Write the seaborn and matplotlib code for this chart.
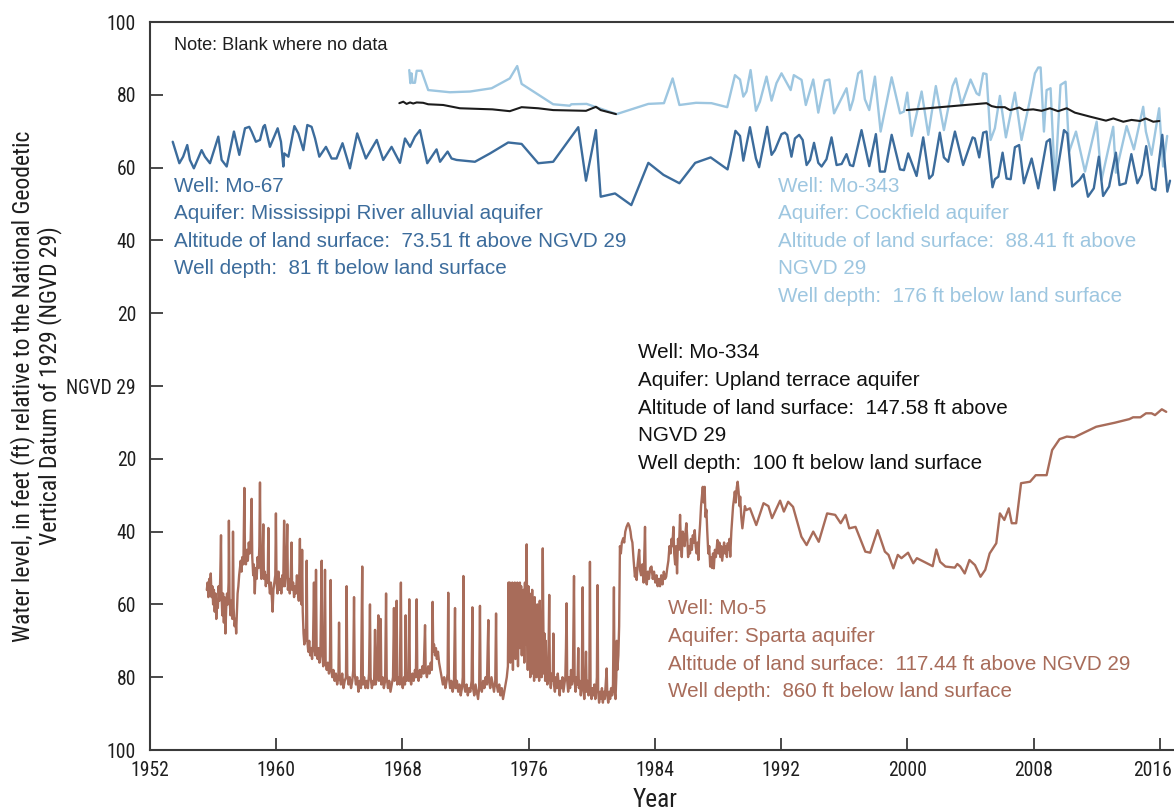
import os
import matplotlib
matplotlib.use("Agg")
import matplotlib.pyplot as plt
from matplotlib import font_manager as fm
from matplotlib.font_manager import FontProperties
from matplotlib.transforms import ScaledTranslation
import seaborn as sns
import pandas as pd

# ---------------- data ----------------
# Well Mo-67 : (year, water level ft relative to NGVD 29)
mo67_points = [
    (1953.44, 67.1), (1953.86, 61.2), (1954.10, 63.0), (1954.36, 66.2), (1954.53, 62.1),
    (1954.78, 59.8), (1955.27, 64.8), (1955.48, 63.0), (1955.80, 61.2), (1956.33, 68.5),
    (1956.54, 62.1), (1956.86, 60.3), (1957.32, 69.9), (1957.66, 63.5), (1958.02, 70.8),
    (1958.29, 71.2), (1958.44, 69.9), (1958.71, 67.1), (1958.97, 67.6), (1959.18, 71.2),
    (1959.28, 71.7), (1959.60, 65.7), (1960.09, 70.8), (1960.30, 67.1), (1960.45, 60.3),
    (1960.51, 63.9), (1960.77, 63.0), (1961.15, 71.4), (1961.40, 69.4), (1961.72, 64.8),
    (1961.97, 71.7), (1962.24, 71.2), (1962.46, 68.0), (1962.73, 63.0), (1963.15, 65.7),
    (1963.51, 62.5), (1963.82, 62.5), (1964.20, 66.7), (1964.67, 59.8), (1965.13, 69.4),
    (1965.68, 62.5), (1966.37, 67.6), (1966.78, 62.1), (1967.31, 65.7), (1967.84, 61.3),
    (1968.16, 68.0), (1968.48, 65.7), (1968.79, 68.5), (1969.11, 70.3), (1969.57, 61.2),
    (1970.16, 65.0), (1970.38, 61.6), (1970.86, 64.4), (1971.11, 62.5), (1971.43, 62.1),
    (1972.59, 61.6), (1973.55, 63.9), (1974.70, 66.9), (1975.55, 66.5), (1976.60, 61.2),
    (1977.55, 61.6), (1979.14, 71.1), (1979.63, 56.4), (1980.26, 70.3), (1980.56, 52.0),
    (1981.47, 52.9), (1982.50, 49.7), (1983.58, 61.3), (1984.54, 58.0), (1985.55, 55.7),
    (1986.55, 61.3), (1987.53, 62.8), (1988.60, 59.5), (1988.80, 63.5), (1989.10, 70.1),
    (1989.39, 68.7), (1989.60, 61.9), (1990.02, 71.1), (1990.40, 62.5), (1990.60, 60.1),
    (1991.11, 71.2), (1991.39, 63.5), (1991.60, 64.8), (1992.02, 69.2), (1992.23, 69.6),
    (1992.38, 69.0), (1992.65, 63.0), (1992.87, 68.0), (1993.14, 69.0), (1993.36, 67.6),
    (1993.61, 60.7), (1993.83, 62.1), (1994.08, 66.8), (1994.35, 61.3), (1994.56, 60.3),
    (1994.87, 62.3), (1995.19, 68.3), (1995.51, 60.7), (1995.83, 61.0), (1996.14, 63.7),
    (1996.36, 60.7), (1996.56, 60.4), (1997.09, 70.3), (1997.58, 60.4), (1998.00, 69.2),
    (1998.26, 58.9), (1998.57, 58.9), (1999.00, 69.0), (1999.53, 59.5), (1999.78, 59.3),
    (2000.05, 63.9), (2000.58, 57.7), (2001.00, 68.3), (2001.38, 57.0), (2001.60, 58.0),
    (2002.05, 69.6), (2002.31, 62.8), (2002.58, 61.6), (2003.01, 69.9), (2003.53, 60.7),
    (2004.13, 68.3), (2004.27, 68.0), (2004.55, 62.8), (2004.80, 69.6), (2005.01, 69.9),
    (2005.39, 54.6), (2005.54, 56.8), (2005.76, 57.5), (2006.03, 64.1), (2006.28, 57.0),
    (2006.54, 56.8), (2006.81, 65.6), (2007.08, 66.2), (2007.38, 55.7), (2007.87, 62.5),
    (2008.29, 54.3), (2008.82, 67.1), (2009.03, 67.8), (2009.31, 53.8), (2009.92, 70.3),
    (2010.13, 69.4), (2010.44, 54.8), (2010.90, 56.6), (2011.16, 58.2), (2011.44, 52.0),
    (2011.81, 54.3), (2012.13, 63.0), (2012.40, 52.2), (2012.78, 54.8), (2013.21, 64.1),
    (2013.44, 55.2), (2013.83, 55.7), (2014.19, 63.7), (2014.57, 55.7), (2014.84, 58.0),
    (2015.13, 65.9), (2015.50, 54.3), (2015.71, 53.8), (2016.15, 69.0), (2016.47, 53.4),
    (2016.64, 56.4),
]

# Well Mo-343
mo343_points = [
    (1968.43, 86.8), (1968.50, 83.2), (1968.57, 85.9), (1968.64, 83.3), (1968.79, 83.3),
    (1968.90, 86.6), (1969.20, 86.6), (1969.63, 81.3), (1971.00, 80.7), (1972.28, 80.9),
    (1973.65, 81.8), (1974.80, 84.5), (1975.27, 87.9), (1975.55, 83.0), (1977.55, 77.4),
    (1978.60, 77.0), (1978.70, 77.4), (1979.67, 77.5), (1980.20, 76.7), (1981.57, 74.7),
    (1983.58, 77.5), (1984.57, 77.7), (1985.12, 84.5), (1985.55, 77.2), (1986.60, 77.8),
    (1987.58, 77.7), (1988.58, 76.6), (1989.07, 85.4), (1989.39, 84.2), (1989.60, 79.5),
    (1989.80, 80.9), (1990.06, 86.8), (1990.40, 75.6), (1990.65, 78.1), (1991.07, 85.0),
    (1991.39, 78.4), (1991.70, 83.2), (1992.02, 85.9), (1992.60, 81.3), (1992.80, 85.4),
    (1993.29, 84.1), (1993.56, 77.2), (1994.03, 84.2), (1994.35, 75.1), (1994.77, 83.9),
    (1995.05, 84.2), (1995.35, 74.9), (1996.14, 81.8), (1996.36, 75.8), (1996.56, 78.6),
    (1996.88, 85.9), (1997.09, 86.6), (1997.30, 78.8), (1997.58, 75.8), (1997.94, 85.0),
    (1998.30, 69.9), (1999.00, 84.8), (1999.53, 74.9), (1999.78, 75.4), (1999.99, 80.6),
    (2000.27, 68.7), (2000.90, 80.9), (2001.32, 69.0), (2001.80, 82.4), (2002.31, 70.3),
    (2002.86, 82.4), (2003.07, 84.5), (2003.43, 77.2), (2004.00, 84.2), (2004.38, 80.4),
    (2004.55, 79.9), (2004.80, 85.9), (2005.01, 85.7), (2005.27, 67.6), (2005.54, 70.8),
    (2005.86, 79.7), (2006.24, 68.3), (2006.81, 80.6), (2007.23, 67.6), (2007.72, 77.7),
    (2008.08, 85.9), (2008.29, 87.5), (2008.44, 87.5), (2008.65, 69.9), (2008.82, 81.3),
    (2009.07, 81.8), (2009.35, 55.5), (2009.70, 82.7), (2010.02, 83.6), (2010.25, 64.4),
    (2010.68, 69.9), (2011.25, 58.9), (2011.99, 72.6), (2012.30, 56.6), (2013.04, 71.2),
    (2013.21, 58.6), (2013.89, 71.4), (2014.35, 65.0), (2014.94, 76.7), (2015.11, 69.9),
    (2015.47, 63.5), (2015.95, 76.3), (2016.20, 60.3), (2016.46, 68.7),
]

# Well Mo-334 (two periods of record, blank where no data)
mo334_points_early = [
    (1967.80, 77.7), (1968.05, 78.1), (1968.26, 77.5), (1968.48, 77.9), (1968.68, 77.6),
    (1968.90, 77.9), (1969.31, 77.8), (1969.63, 77.4), (1970.58, 77.2), (1971.64, 76.3),
    (1973.70, 76.0), (1974.80, 75.5), (1975.55, 76.6), (1976.60, 76.3), (1977.55, 75.8),
    (1979.63, 75.6), (1980.26, 76.7), (1980.56, 75.8), (1981.53, 74.7),
]
mo334_points_late = [
    (1999.95, 75.8), (2005.01, 77.7), (2005.33, 76.9), (2005.64, 76.6), (2006.17, 76.6),
    (2006.50, 75.8), (2006.70, 76.0), (2007.08, 76.5), (2007.38, 75.8), (2007.97, 76.0),
    (2008.50, 75.6), (2009.03, 76.3), (2009.55, 75.5), (2010.09, 76.3), (2010.61, 75.1),
    (2011.57, 74.0), (2012.58, 72.9), (2013.05, 73.5), (2013.68, 72.6), (2014.20, 73.1),
    (2014.74, 72.8), (2015.10, 73.5), (2015.58, 72.6), (2015.96, 72.8),
]

# Well Mo-5 (negative = below NGVD 29)
mo5_points = [
    (1955.60, -56), (1955.65, -54), (1955.70, -58), (1955.75, -53), (1955.80, -57), (1955.85, -51.5),
    (1955.90, -58), (1955.95, -55), (1956.00, -60), (1956.05, -56), (1956.10, -62), (1956.15, -57),
    (1956.20, -64), (1956.25, -59), (1956.30, -61), (1956.35, -55), (1956.40, -59), (1956.45, -53),
    (1956.50, -41), (1956.53, -57), (1956.58, -63), (1956.63, -57), (1956.68, -65), (1956.72, -58),
    (1956.78, -68), (1956.83, -61), (1956.88, -57), (1956.93, -60), (1956.98, -54), (1957.00, -37),
    (1957.04, -58), (1957.10, -63), (1957.15, -59), (1957.22, -64), (1957.26, -40), (1957.30, -61),
    (1957.36, -66), (1957.42, -64), (1957.46, -68), (1957.50, -63), (1957.55, -57), (1957.60, -55),
    (1957.65, -52), (1957.70, -50), (1957.75, -48), (1957.80, -51), (1957.85, -47), (1957.92, -49),
    (1957.98, -28), (1958.02, -47), (1958.08, -49), (1958.14, -45), (1958.20, -48), (1958.26, -43),
    (1958.32, -46), (1958.38, -42), (1958.44, -31), (1958.48, -47), (1958.54, -52), (1958.58, -49),
    (1958.64, -57), (1958.70, -50), (1958.76, -53), (1958.82, -47), (1958.88, -50), (1958.93, -44),
    (1958.97, -26.5), (1959.01, -49), (1959.06, -53), (1959.12, -50), (1959.18, -38), (1959.22, -53),
    (1959.28, -51), (1959.34, -55), (1959.40, -52), (1959.46, -54), (1959.50, -39), (1959.54, -54),
    (1959.60, -57), (1959.66, -54), (1959.72, -58), (1959.77, -62), (1959.82, -56), (1959.88, -54),
    (1959.94, -52), (1959.98, -35), (1960.02, -54), (1960.08, -57), (1960.14, -51), (1960.20, -56),
    (1960.26, -53), (1960.32, -57), (1960.38, -52), (1960.44, -55), (1960.50, -37), (1960.54, -55),
    (1960.60, -52), (1960.65, -47), (1960.70, -38), (1960.74, -56), (1960.80, -53), (1960.86, -57),
    (1960.92, -52), (1960.97, -43), (1961.01, -56), (1961.07, -54), (1961.13, -58), (1961.19, -55),
    (1961.25, -57), (1961.31, -52), (1961.37, -56), (1961.43, -59), (1961.50, -42), (1961.54, -57),
    (1961.60, -60), (1961.64, -45), (1961.68, -62), (1961.73, -68), (1961.78, -71), (1961.84, -67),
    (1961.89, -70), (1961.93, -48), (1961.97, -70), (1962.03, -73), (1962.09, -70), (1962.15, -74),
    (1962.21, -72), (1962.27, -75), (1962.33, -71), (1962.39, -54), (1962.43, -72), (1962.48, -74),
    (1962.52, -50.5), (1962.56, -73), (1962.62, -75), (1962.68, -72), (1962.74, -76), (1962.80, -73),
    (1962.88, -48), (1962.92, -74), (1962.98, -77), (1963.04, -75), (1963.09, -50.5), (1963.13, -76),
    (1963.20, -78), (1963.27, -76), (1963.34, -79), (1963.40, -77), (1963.45, -53.3), (1963.49, -78),
    (1963.55, -80), (1963.62, -78), (1963.70, -81), (1963.78, -79), (1963.86, -82), (1963.94, -80),
    (1963.98, -65), (1964.02, -80), (1964.10, -82), (1964.18, -79), (1964.26, -83), (1964.34, -81),
    (1964.42, -80), (1964.46, -55), (1964.50, -79), (1964.58, -82), (1964.66, -80), (1964.74, -83),
    (1964.82, -81), (1964.88, -78), (1964.93, -58), (1964.97, -79), (1965.05, -82), (1965.13, -80),
    (1965.21, -84), (1965.29, -81), (1965.37, -83), (1965.45, -49.6), (1965.49, -82), (1965.57, -80),
    (1965.65, -83), (1965.73, -81), (1965.81, -83), (1965.88, -79), (1965.94, -60), (1965.98, -80),
    (1966.06, -83), (1966.14, -81), (1966.20, -82), (1966.26, -67), (1966.30, -82), (1966.38, -80),
    (1966.47, -63), (1966.51, -81), (1966.57, -79), (1966.62, -64), (1966.66, -82), (1966.74, -80),
    (1966.82, -83), (1966.90, -81), (1966.96, -57), (1967.00, -80), (1967.08, -83), (1967.16, -81),
    (1967.24, -84), (1967.32, -82), (1967.40, -80), (1967.46, -61), (1967.50, -81), (1967.56, -79),
    (1967.63, -59), (1967.67, -82), (1967.75, -80), (1967.83, -82), (1967.90, -54), (1967.94, -81),
    (1968.02, -83), (1968.10, -80), (1968.16, -82), (1968.20, -63), (1968.24, -81), (1968.32, -79),
    (1968.38, -81), (1968.43, -58.6), (1968.47, -80), (1968.55, -82), (1968.63, -79), (1968.71, -81),
    (1968.79, -78), (1968.85, -80), (1968.90, -58.6), (1968.94, -79), (1969.02, -81), (1969.10, -78),
    (1969.18, -80), (1969.26, -77), (1969.34, -79), (1969.43, -65.7), (1969.47, -78), (1969.55, -80),
    (1969.63, -77), (1969.71, -79), (1969.79, -76), (1969.86, -78), (1969.91, -59.3), (1969.95, -73),
    (1970.00, -71), (1970.06, -74), (1970.12, -72), (1970.18, -75), (1970.25, -73), (1970.32, -76),
    (1970.40, -78), (1970.48, -80), (1970.56, -82), (1970.64, -80), (1970.72, -83), (1970.80, -81),
    (1970.86, -79), (1970.90, -56.8), (1970.94, -80), (1971.02, -83), (1971.10, -81), (1971.18, -84),
    (1971.26, -82), (1971.33, -61), (1971.37, -83), (1971.45, -81), (1971.53, -84), (1971.61, -82),
    (1971.69, -85), (1971.77, -83), (1971.82, -80), (1971.86, -52.2), (1971.90, -82), (1971.98, -84),
    (1972.06, -82), (1972.14, -85), (1972.22, -83), (1972.30, -84), (1972.38, -81), (1972.43, -60.8),
    (1972.47, -83), (1972.55, -85), (1972.63, -82), (1972.71, -84), (1972.79, -86), (1972.86, -83),
    (1972.91, -60.4), (1972.95, -82), (1973.03, -84), (1973.11, -81), (1973.19, -83), (1973.27, -80),
    (1973.35, -82), (1973.44, -64.3), (1973.48, -81), (1973.56, -83), (1973.64, -80), (1973.72, -82),
    (1973.80, -84), (1973.88, -81), (1973.93, -62.5), (1973.97, -82), (1974.05, -84), (1974.13, -82),
    (1974.21, -85), (1974.29, -83), (1974.37, -86), (1974.45, -84), (1974.53, -82), (1974.61, -80),
    (1974.68, -77), (1974.72, -54), (1974.76, -72), (1974.80, -54), (1974.84, -76), (1974.88, -55),
    (1974.92, -70), (1974.96, -54), (1975.00, -78), (1975.04, -56), (1975.08, -73), (1975.12, -54),
    (1975.16, -75), (1975.20, -55), (1975.24, -70), (1975.28, -54), (1975.32, -77), (1975.36, -57),
    (1975.40, -72), (1975.44, -54), (1975.48, -68), (1975.52, -55), (1975.56, -74), (1975.60, -58),
    (1975.64, -70), (1975.68, -56), (1975.72, -76), (1975.76, -54), (1975.80, -71), (1975.84, -60),
    (1975.87, -43.5), (1975.90, -66), (1975.94, -78), (1975.98, -55), (1976.02, -73), (1976.06, -57),
    (1976.10, -80), (1976.14, -62), (1976.18, -75), (1976.22, -56), (1976.26, -79), (1976.30, -64),
    (1976.34, -81), (1976.38, -58), (1976.42, -77), (1976.46, -66), (1976.50, -80), (1976.54, -60),
    (1976.58, -76), (1976.62, -67), (1976.66, -81), (1976.70, -59), (1976.74, -78), (1976.78, -65),
    (1976.82, -80), (1976.86, -58), (1976.89, -44.6), (1976.92, -62), (1976.96, -79), (1977.00, -68),
    (1977.04, -81), (1977.08, -70), (1977.12, -79), (1977.18, -82), (1977.24, -78), (1977.30, -57.4),
    (1977.34, -80), (1977.40, -83), (1977.46, -79), (1977.52, -81), (1977.56, -68), (1977.60, -82),
    (1977.66, -84), (1977.72, -80), (1977.78, -83), (1977.84, -79), (1977.90, -82), (1977.96, -85),
    (1978.02, -81), (1978.08, -83), (1978.14, -80), (1978.20, -84), (1978.26, -82), (1978.32, -80),
    (1978.36, -72), (1978.40, -59.7), (1978.44, -81), (1978.50, -84), (1978.56, -80), (1978.62, -83),
    (1978.68, -78), (1978.74, -82), (1978.80, -80), (1978.87, -52.2), (1978.91, -81), (1978.97, -84),
    (1979.03, -80), (1979.09, -82), (1979.14, -72), (1979.18, -83), (1979.24, -81), (1979.30, -85),
    (1979.36, -82), (1979.42, -55.3), (1979.46, -83), (1979.52, -86), (1979.58, -82), (1979.63, -73),
    (1979.67, -84), (1979.73, -81), (1979.79, -85), (1979.84, -82), (1979.88, -48.3), (1979.92, -83),
    (1979.98, -86), (1980.04, -83), (1980.10, -85), (1980.16, -82), (1980.22, -86), (1980.28, -83),
    (1980.32, -80), (1980.36, -54.7), (1980.40, -84), (1980.46, -87), (1980.52, -84), (1980.58, -86),
    (1980.64, -83), (1980.70, -87), (1980.76, -84), (1980.82, -86), (1980.88, -82), (1980.94, -77.6),
    (1980.98, -85), (1981.04, -87), (1981.10, -84), (1981.16, -86), (1981.22, -83), (1981.28, -85),
    (1981.34, -82), (1981.40, -55.3), (1981.44, -84), (1981.50, -86), (1981.55, -80), (1981.58, -70),
    (1981.62, -78), (1981.68, -74), (1981.73, -66), (1981.78, -44), (1981.84, -46), (1981.90, -43),
    (1981.99, -41.8), (1982.05, -43), (1982.12, -40), (1982.20, -38.7), (1982.30, -37.7), (1982.38, -38.5),
    (1982.45, -40), (1982.50, -41.8), (1982.57, -43), (1982.65, -48), (1982.73, -52.4), (1982.80, -50),
    (1982.84, -53.3), (1982.90, -49), (1983.00, -45), (1983.05, -50.5), (1983.12, -52), (1983.20, -49),
    (1983.28, -54), (1983.37, -38.7), (1983.41, -52), (1983.48, -54.5), (1983.55, -51), (1983.62, -53),
    (1983.70, -50), (1983.78, -49.6), (1983.86, -53), (1983.94, -51), (1984.02, -54), (1984.10, -52),
    (1984.17, -55), (1984.24, -53), (1984.32, -55), (1984.40, -52), (1984.48, -54.5), (1984.56, -51),
    (1984.64, -53), (1984.71, -52.4), (1984.78, -50), (1984.85, -48), (1984.92, -44), (1984.99, -46),
    (1985.05, -42), (1985.10, -44), (1985.17, -38.7), (1985.22, -46), (1985.28, -49), (1985.34, -44),
    (1985.40, -51.5), (1985.46, -42), (1985.52, -45), (1985.59, -35.4), (1985.64, -43), (1985.70, -47),
    (1985.76, -40), (1985.82, -41.4), (1985.88, -44), (1985.94, -40), (1985.99, -37.7), (1986.05, -42),
    (1986.10, -47), (1986.16, -44), (1986.22, -46), (1986.28, -42), (1986.34, -45), (1986.40, -41),
    (1986.46, -43), (1986.52, -39.6), (1986.58, -44), (1986.64, -46), (1986.70, -43), (1986.75, -47.8),
    (1986.80, -42), (1986.86, -38), (1986.92, -33), (1986.98, -30), (1987.03, -27.7), (1987.09, -32),
    (1987.15, -27.7), (1987.20, -36), (1987.26, -34), (1987.31, -39.6), (1987.38, -46), (1987.44, -44),
    (1987.50, -49.6), (1987.56, -47), (1987.62, -50), (1987.68, -46), (1987.73, -50.1), (1987.80, -45),
    (1987.86, -47), (1987.92, -44), (1987.96, -42.3), (1988.02, -46), (1988.08, -43), (1988.14, -47),
    (1988.20, -44), (1988.26, -48), (1988.31, -46), (1988.38, -43), (1988.44, -46), (1988.50, -44),
    (1988.56, -47), (1988.61, -43.2), (1988.68, -45), (1988.72, -42), (1988.77, -46.9), (1988.84, -40),
    (1988.90, -36), (1988.95, -33), (1989.00, -31.3), (1989.06, -29), (1989.12, -32), (1989.18, -28),
    (1989.24, -26.3), (1989.30, -29), (1989.36, -33), (1989.40, -30.4), (1989.47, -36), (1989.54, -39.1),
    (1989.62, -36), (1989.70, -33), (1989.78, -34.1), (1990.02, -33.6), (1990.42, -38.2), (1990.88, -32.2),
    (1991.19, -33.0), (1991.42, -36.3), (1991.93, -31.5), (1992.17, -34.5), (1992.44, -31.8), (1992.75, -33.2),
    (1993.28, -41.4), (1993.61, -43.7), (1994.03, -40.0), (1994.38, -42.8), (1994.91, -35.0), (1995.42, -35.4),
    (1995.77, -37.7), (1996.08, -35.4), (1996.31, -39.1), (1996.71, -38.7), (1997.33, -45.5), (1997.64, -45.8),
    (1998.11, -39.6), (1998.57, -45.5), (1998.80, -46.4), (1999.11, -50.1), (1999.39, -46.4), (1999.62, -47.3),
    (2000.04, -45.8), (2000.37, -48.7), (2000.60, -47.3), (2001.60, -49.5), (2001.83, -44.9), (2002.07, -48.3),
    (2002.41, -49.6), (2003.00, -49.9), (2003.16, -48.9), (2003.35, -49.6), (2003.63, -51.5), (2003.93, -47.8),
    (2004.28, -49.2), (2004.63, -52.4), (2004.93, -50.5), (2005.21, -46.0), (2005.63, -43.2), (2005.86, -35.0),
    (2006.14, -36.8), (2006.42, -33.6), (2006.61, -37.7), (2006.89, -37.7), (2007.20, -26.7), (2007.77, -26.3),
    (2008.13, -24.5), (2008.82, -24.5), (2009.17, -17.6), (2009.64, -14.6), (2010.10, -13.9), (2010.57, -14.1),
    (2011.96, -11.2), (2013.13, -10.1), (2014.06, -9.1), (2014.30, -8.6), (2014.76, -8.6), (2015.12, -7.5),
    (2015.47, -7.5), (2015.69, -8.0), (2016.12, -6.4), (2016.40, -7.1),
]

y_ticks = [-100, -80, -60, -40, -20, 0, 20, 40, 60, 80, 100]
y_tick_labels = ["100", "80", "60", "40", "20", "NGVD 29", "20", "40", "60", "80", "100"]
x_ticks = [1952, 1960, 1968, 1976, 1984, 1992, 2000, 2008, 2016]

well_labels = {
    "Mo-67": ["Well: Mo-67", "Aquifer: Mississippi River alluvial aquifer",
              "Altitude of land surface:  73.51 ft above NGVD 29",
              "Well depth:  81 ft below land surface"],
    "Mo-343": ["Well: Mo-343", "Aquifer: Cockfield aquifer",
               "Altitude of land surface:  88.41 ft above", "NGVD 29",
               "Well depth:  176 ft below land surface"],
    "Mo-334": ["Well: Mo-334", "Aquifer: Upland terrace aquifer",
               "Altitude of land surface:  147.58 ft above", "NGVD 29",
               "Well depth:  100 ft below land surface"],
    "Mo-5": ["Well: Mo-5", "Aquifer: Sparta aquifer",
             "Altitude of land surface:  117.44 ft above NGVD 29",
             "Well depth:  860 ft below land surface"],
}

# ---------------- styling ----------------
C_MO67 = "#3c6c9c"
C_MO343 = "#9dc6e0"
C_MO334 = "#1c1c1c"
C_MO5 = "#a86c5a"
AX_C = "#3a3a3a"
TXT = "#1e1e1e"

sns.set_style("ticks")
plt.rcParams["font.family"] = ["Liberation Sans", "DejaVu Sans"]


def pick_condensed():
    best = None
    for f in fm.fontManager.ttflist:
        base = os.path.basename(f.fname).lower()
        nm = f.name.lower()
        cond = ("narrow" in nm or "narrow" in base or "condensed" in base or
                "condensed" in nm or str(f.stretch) in ("condensed", "semi-condensed"))
        if not cond or f.style != "normal":
            continue
        if any(k in base for k in ("bold", "italic", "light", "thin", "black", "medium",
                                   "oblique", "heavy")):
            continue
        score = 0
        if "liberation" in nm:
            score = 60
        elif "roboto" in nm:
            score = 50
        elif "dejavu" in nm:
            score = 40
        elif nm.startswith("noto sans") and base.startswith("notosans-"):
            score = 35
        elif "open sans" in nm:
            score = 30
        else:
            continue
        if "extra" in base or "ultra" in base:
            score -= 20
        if "semi" in base:
            score -= 5
        if best is None or score > best[0]:
            best = (score, f.fname)
    return best[1] if best else None


_cond_file = pick_condensed()


def narrow_fp(size):
    if _cond_file:
        return FontProperties(fname=_cond_file, size=size)
    return FontProperties(family="Liberation Sans", size=size)


W, H = 1174, 811
fig = plt.figure(figsize=(W / 100, H / 100), dpi=100)
L, R, T, B = 150, 1174, 22, 750
ax = fig.add_axes([L / W, 1 - B / H, (R - L) / W, (B - T) / H])


def frame(points, seg):
    return pd.DataFrame({"year": [p[0] for p in points],
                         "level": [p[1] for p in points],
                         "segment": seg})


df67 = frame(mo67_points, 0)
df343 = frame(mo343_points, 0)
df334 = pd.concat([frame(mo334_points_early, 0), frame(mo334_points_late, 1)], ignore_index=True)
df5 = frame(mo5_points, 0)

sns.lineplot(data=df5, x="year", y="level", units="segment", estimator=None, sort=False,
             color=C_MO5, lw=1.7, ax=ax)
sns.lineplot(data=df343, x="year", y="level", units="segment", estimator=None, sort=False,
             color=C_MO343, lw=1.7, ax=ax)
sns.lineplot(data=df67, x="year", y="level", units="segment", estimator=None, sort=False,
             color=C_MO67, lw=1.7, ax=ax)
sns.lineplot(data=df334, x="year", y="level", units="segment", estimator=None, sort=False,
             color=C_MO334, lw=1.5, ax=ax)

ax.set_xlim(1952, 1952 + (R - L) / 15.78)
ax.set_ylim(-100, 100)
ax.set_yticks(y_ticks)
ax.set_yticklabels(y_tick_labels)
ax.set_xticks(x_ticks)
ax.set_xticklabels([str(t) for t in x_ticks])
ax.tick_params(axis="both", direction="in", length=9, width=1.3, color=AX_C)
ax.tick_params(axis="y", pad=10, labelcolor=TXT)
ax.tick_params(axis="x", pad=8, labelcolor=TXT)
for lab in ax.get_xticklabels() + ax.get_yticklabels():
    lab.set_fontproperties(narrow_fp(14))

for side in ["left", "bottom", "top"]:
    ax.spines[side].set_color(AX_C)
    ax.spines[side].set_linewidth(1.5)
ax.spines["right"].set_visible(False)

ax.set_xlabel("Year", fontproperties=narrow_fp(16), color=TXT)
YL_LS = 1.3
ax.set_ylabel("Water level, in feet (ft) relative to the National Geodetic\n"
              "Vertical Datum of 1929 (NGVD 29)", fontproperties=narrow_fp(16),
              color=TXT, linespacing=YL_LS)
ax.yaxis.label.set_va("center")
ax.xaxis.label.set_va("center")
ax.xaxis.set_label_coords((655 - L) / (R - L), (B - 800) / (B - T))


def fig_text(px, py, s, color, size=14.5):
    return fig.text(px / W, 1 - py / H, s, ha="left", va="center", color=color, fontsize=size)


note = fig_text(174, 46, "Note: Blank where no data", TXT, 13)

annots = []


def block(x0, y0, lines, color, step=27.6):
    for i, s in enumerate(lines):
        annots.append(fig_text(x0, y0 + i * step, s, color))


block(174, 186, well_labels["Mo-67"], C_MO67)
block(778, 186, well_labels["Mo-343"], C_MO343)
block(638, 353, well_labels["Mo-334"], "#111111")
block(668, 609, well_labels["Mo-5"], C_MO5)

# ---- fit text sizes to the widths measured on the reference ----
fig.canvas.draw()
rend = fig.canvas.get_renderer()


def fit(artist, target, dim="w"):
    for _ in range(3):
        bb = artist.get_window_extent(rend)
        cur = bb.width if dim == "w" else bb.height
        if cur > 0:
            artist.set_fontsize(artist.get_fontsize() * target / cur)


# annotations: "Well depth:  176 ft below land surface" is ~344 px wide
ref_line = annots[8]
fit(ref_line, 344)
for a in annots:
    a.set_fontsize(ref_line.get_fontsize())
fit(note, 214)

# tick labels: condensed digits, a touch larger than a pure width match so the
# height comes closer to the reference's tall condensed numerals
xl = ax.get_xticklabels()
fit(xl[1], 39)
tick_size = xl[1].get_fontsize()
ax.tick_params(axis="both", labelsize=tick_size)
for lab in ax.get_xticklabels() + ax.get_yticklabels():
    lab.set_fontsize(tick_size)

# keep the last year label ("2016") fully inside the canvas edge
last = ax.get_xticklabels()[-1]
bb_last = last.get_window_extent(rend)
overflow = bb_last.x1 - (W - 2)
if overflow > 0:
    last.set_transform(last.get_transform() +
                       ScaledTranslation(-overflow / 100.0, 0, fig.dpi_scale_trans))

# axis titles
fit(ax.xaxis.label, 45)
ylab = ax.yaxis.label
fit(ylab, 512, dim="h")
for _ in range(6):
    bb = ylab.get_window_extent(rend)
    if bb.width > 0:
        YL_LS = YL_LS * (52.0 / bb.width) ** 1.5
        ylab.set_linespacing(YL_LS)
ax.yaxis.set_label_coords((36 - L) / (R - L), 0.5)

fig.savefig("out.png", dpi=100)
